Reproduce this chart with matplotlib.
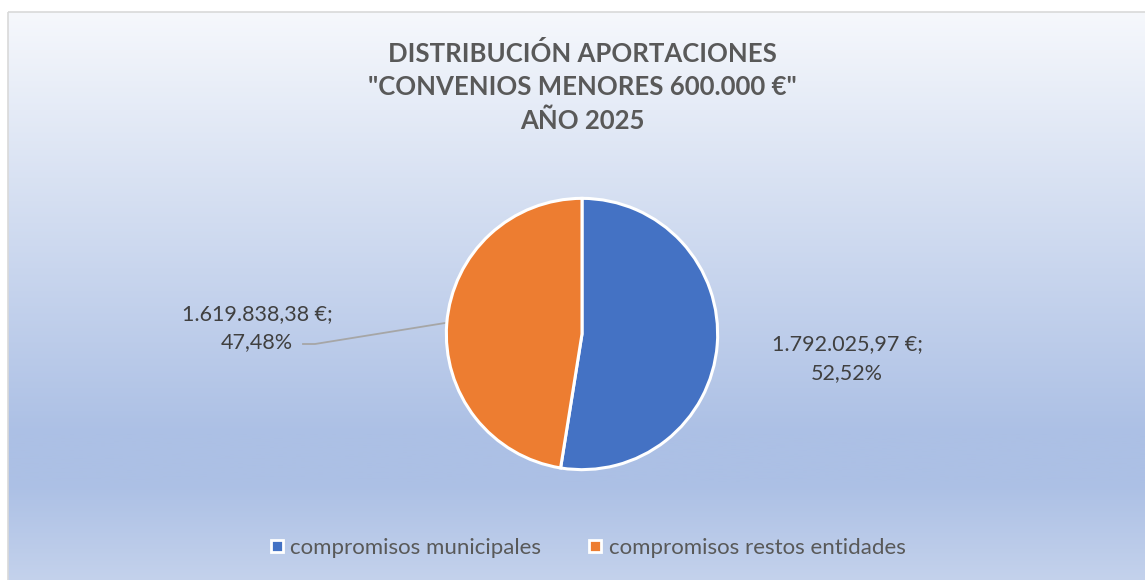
import numpy as np
import matplotlib
matplotlib.use('Agg')
import matplotlib.pyplot as plt
from matplotlib.colors import LinearSegmentedColormap
from matplotlib.patches import Rectangle
from matplotlib.lines import Line2D

## data
categorias = ['compromisos municipales', 'compromisos restos entidades']
importes = [1792025.97, 1619838.38]
colores = ['#4472C4', '#ED7D31']
titulo = 'DISTRIBUCIÓN APORTACIONES\n"CONVENIOS MENORES 600.000 €"\nAÑO 2025'

plt.rcParams['font.family'] = ['Lato', 'DejaVu Sans']

def eur(v):
    s = f'{v:,.2f}'
    return s.replace(',', 'X').replace('.', ',').replace('X', '.')

W, H = 1145, 580
fig = plt.figure(figsize=(W/100, H/100), dpi=100)
fig.patch.set_facecolor('white')

# background with gradient, pixel coords
bg = fig.add_axes([0, 0, 1, 1])
bg.set_xlim(0, W); bg.set_ylim(H, 0); bg.axis('off')
grad = LinearSegmentedColormap.from_list('g', [
    (0.0, (246/255, 248/255, 252/255)),
    (0.74, (172/255, 192/255, 229/255)),
    (0.83, (172/255, 192/255, 229/255)),
    (1.0, (196/255, 210/255, 236/255))])
bg.imshow(np.linspace(0, 1, 256).reshape(-1, 1), cmap=grad, aspect='auto',
          extent=(8, W + 2, H + 2, 12), zorder=0)
bg.add_patch(Rectangle((8, 12), W, H, fill=False, edgecolor='#D9D9D9', lw=1.2, zorder=1))
bg.set_xlim(0, W); bg.set_ylim(H, 0)

bg.text(582, 87, titulo, ha='center', va='center', fontsize=18.5, fontweight='bold',
        color='#595959', linespacing=1.45)

# pie
cx, cy, r = 582, 334, 137
ax = fig.add_axes([(cx - r)/W, 1 - (cy + r)/H, 2*r/W, 2*r/H])
ax.pie(importes, colors=colores, startangle=90, counterclock=False,
       wedgeprops=dict(edgecolor='white', linewidth=2.2))
ax.set_xlim(-1.01, 1.01); ax.set_ylim(-1.01, 1.01)
ax.set_aspect('equal'); ax.axis('off')

total = sum(importes)
etiquetas = [eur(v) + ' €;\n' + f'{100*v/total:.2f}'.replace('.', ',') + '%' for v in importes]
bg.text(847, 358.5, etiquetas[0], ha='center', va='center', fontsize=15.5,
        color='#404040', linespacing=1.55)
bg.text(257, 328, etiquetas[1], ha='center', va='center', fontsize=15.5,
        color='#404040', linespacing=1.55)
bg.plot([303, 315, 445], [344, 344, 323], color='#A6A6A6', lw=1.3)

# legend
handles = [Line2D([], [], marker='s', ls='', markersize=8.5, markerfacecolor=c,
                  markeredgecolor='white', markeredgewidth=2) for c in colores]
fig.legend(handles, categorias, loc='center', bbox_to_anchor=(586/W, 1 - 548/H),
           ncol=2, frameon=False, fontsize=16, labelcolor='#595959',
           handletextpad=0.15, columnspacing=2.0, handlelength=0.9)

fig.savefig('out.png', dpi=100)
